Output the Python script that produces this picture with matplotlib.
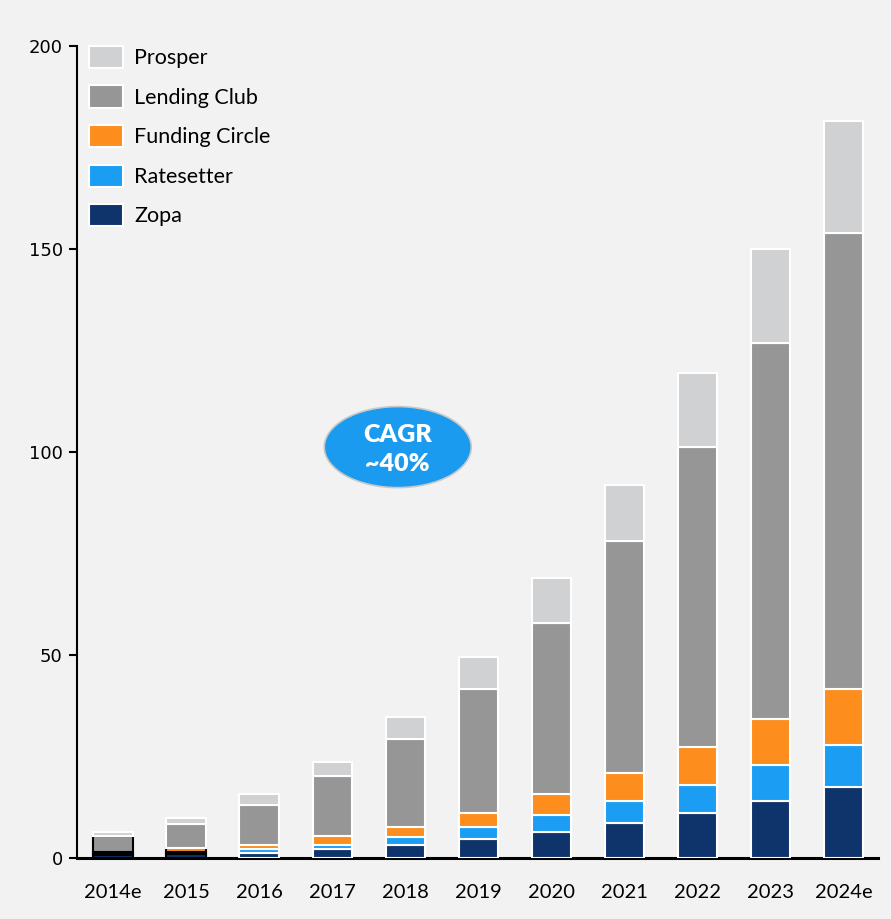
import matplotlib
matplotlib.use("Agg")
import matplotlib.pyplot as plt
from matplotlib.patches import Ellipse, Patch
import numpy as np

# data
years = ['2014e', '2015', '2016', '2017', '2018', '2019', '2020', '2021', '2022', '2023', '2024e']
zopa = [0.8, 1.0, 1.2, 2.2, 3.25, 4.7, 6.3, 8.7, 11.1, 14.1, 17.6]
ratesetter = [0.3, 0.4, 1.0, 1.0, 1.9, 2.95, 4.4, 5.4, 6.9, 8.9, 10.3]
funding = [0.4, 1.0, 1.1, 2.1, 2.5, 3.45, 4.95, 6.9, 9.4, 11.3, 13.8]
lending = [3.8, 5.9, 9.7, 14.9, 21.6, 30.5, 42.2, 57.1, 73.8, 92.6, 112.3]
prosper = [1.0, 1.5, 2.7, 3.4, 5.5, 8.0, 11.1, 13.8, 18.3, 23.2, 27.5]

names = ['Zopa', 'Ratesetter', 'Funding Circle', 'Lending Club', 'Prosper']
series = [zopa, ratesetter, funding, lending, prosper]
kolory = ['#0f346c', '#1a9df2', '#fd8d1c', '#969696', '#d0d1d3']

# first two bars had black outlines on the small segments in the original
black_edge = {0: [0, 1, 2, 3], 1: [0, 1, 2]}

tlo = '#f2f2f2'
fig = plt.figure(figsize=(8.91, 9.19), dpi=100, facecolor=tlo)
ax = fig.add_axes([0.0859, 0.0664, 0.8995, 0.8836], facecolor=tlo)

x = np.arange(len(years))
bottom = np.zeros(len(years))
for s, (nazwa, vals, kol) in enumerate(zip(names, series, kolory)):
    edges = []
    for i in range(len(years)):
        if s in black_edge.get(i, []):
            edges.append('black')
        else:
            edges.append('white')
    ax.bar(x, vals, 0.54, bottom=bottom, color=kol, edgecolor=edges,
           linewidth=1.5, zorder=3)
    bottom += np.array(vals)

ax.set_xlim(-0.5, 10.47)
ax.set_ylim(0, 200)
ax.set_yticks([0, 50, 100, 150, 200])
ax.set_xticks(x)
ax.set_xticklabels(years, fontfamily='Lato', fontsize=14.5)
ax.tick_params(axis='x', length=0, pad=19)
ax.tick_params(axis='y', length=6, width=1.5, pad=4, labelsize=13, direction='out')

for sp in ['top', 'right']:
    ax.spines[sp].set_visible(False)
ax.spines['left'].set_linewidth(1.5)
ax.spines['bottom'].set_linewidth(2.2)

uchwyty = [Patch(facecolor=k, edgecolor='white', linewidth=1.5, label=n)
           for n, k in zip(names, kolory)][::-1]
ax.legend(handles=uchwyty, loc='upper left', bbox_to_anchor=(0.016, 1.0),
          frameon=False, borderpad=0, borderaxespad=0,
          handlelength=1.55, handleheight=1.2, handletextpad=0.52,
          labelspacing=0.8, prop={'family': 'Lato', 'size': 15.5})

el = Ellipse((0.4008, 0.506), 0.1834, 0.0998, transform=ax.transAxes,
             facecolor='#1a9bef', edgecolor='#c8c8c8', linewidth=1.2, zorder=5)
ax.add_patch(el)
ax.text(0.4008, 0.503, 'CAGR\n~40%', transform=ax.transAxes, ha='center',
        va='center', color='white', fontweight='heavy', fontsize=18,
        fontfamily='Lato', linespacing=1.4, zorder=6)

plt.savefig('out.png', dpi=100, facecolor=tlo)
